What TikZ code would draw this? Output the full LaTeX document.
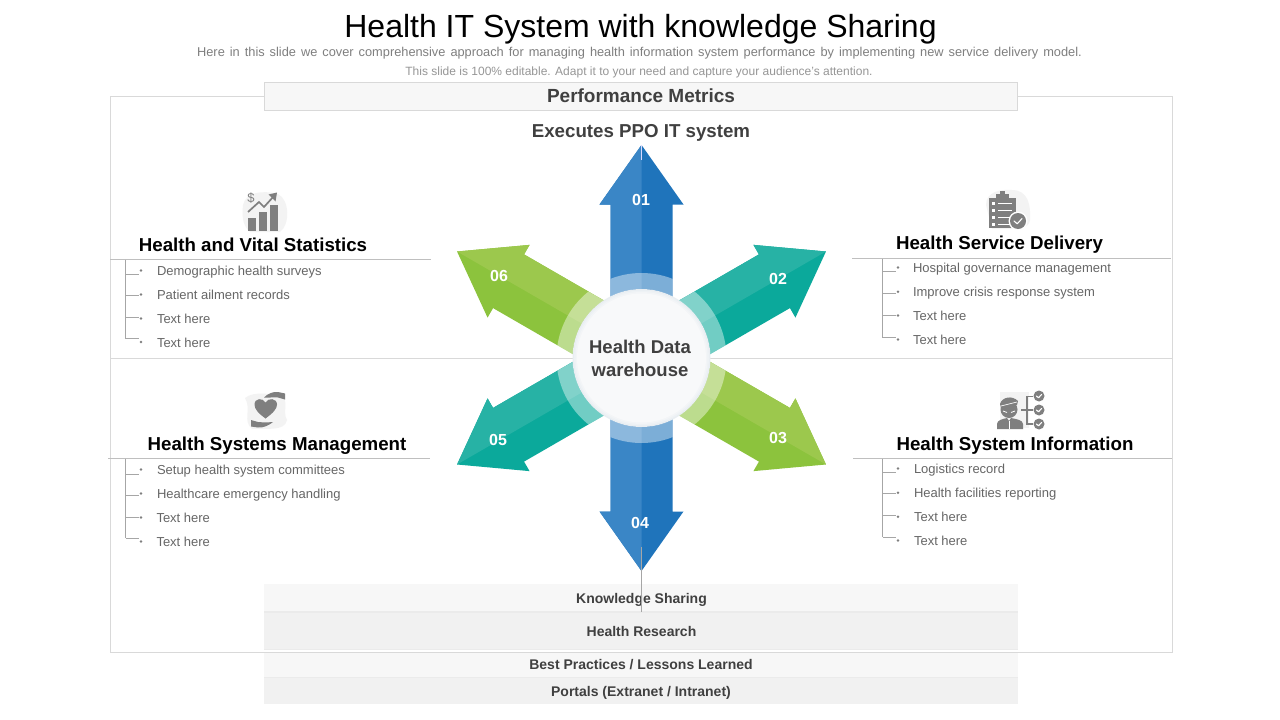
\documentclass[tikz,border=0pt]{standalone}
\usepackage{fontspec}
\setmainfont{Liberation Sans}
\definecolor{framegray}{HTML}{D9D9D9}
\definecolor{rulegray}{HTML}{BFBFBF}
\definecolor{treegray}{HTML}{A6A6A6}
\definecolor{darktext}{HTML}{404040}
\definecolor{listtext}{HTML}{666666}
\definecolor{subtext}{HTML}{7F7F7F}
\definecolor{subtextb}{HTML}{969696}
\definecolor{barA}{HTML}{F7F7F7}
\definecolor{barB}{HTML}{F1F1F1}
\definecolor{barline}{HTML}{EBEBEB}
\definecolor{blob}{HTML}{F3F3F3}
\definecolor{icongray}{HTML}{7F7F7F}
\definecolor{blueL}{HTML}{3A86C6}
\definecolor{blueD}{HTML}{1F74BB}
\definecolor{tealL}{HTML}{27B2A5}
\definecolor{tealD}{HTML}{0BA99B}
\definecolor{greenL}{HTML}{9CC84D}
\definecolor{greenD}{HTML}{8CC33D}
\definecolor{hubA}{HTML}{E9EEF2}
\definecolor{hubB}{HTML}{EEF2F5}
\definecolor{hubC}{HTML}{F3F5F7}
\definecolor{hubfill}{HTML}{F8F9FA}
\newcommand{\fs}[1]{\fontsize{#1}{#1}\selectfont}
\tikzset{
  txt/.style={inner sep=0pt,outer sep=0pt},
  heading/.style={txt,anchor=base,font=\fs{18.7}\bfseries,text=black},
  centerhead/.style={txt,anchor=base,font=\fs{18.7}\bfseries,text=darktext},
  listitem/.style={txt,anchor=base west,font=\fs{13},text=listtext},
  barlabel/.style={txt,anchor=base,font=\fs{14}\bfseries,text=darktext},
  barbox/.style={inner sep=0pt,minimum width=754pt},
  numlabel/.style={txt,font=\fs{16}\bfseries,text=white},
  hair/.style={line width=0.8pt,draw=framegray},
  subrule/.style={line width=0.9pt,draw=rulegray},
  tree/.style={line width=0.7pt,draw=treegray},
  dot/.style={fill=icongray,circle,inner sep=0pt,minimum size=2.8pt}
}
% angle, light-side sign, light colour, dark colour
\newcommand{\healtharrow}[4]{%
  \begin{scope}[shift={(641.5,358)},rotate=#1]
    \fill[#4] (60,-31) -- (153.5,-31) -- (153.5,-42) -- (213,0) -- (153.5,42) -- (153.5,31) -- (60,31) -- cycle;
    \fill[#3] (60,0) -- (60,#2*31) -- (153.5,#2*31) -- (153.5,#2*42) -- (213,0) -- cycle;
    \begin{scope}
      \clip (60,-31) rectangle (153,31);
      \fill[white,opacity=.42,even odd rule] (0,0) circle[radius=85pt] (0,0) circle[radius=69pt];
    \end{scope}
  \end{scope}}
% name, tree x, dot x, branch y, dot y
\newcommand{\treebranch}[5]{%
  \node[dot] (#1d) at (#3,#5) {};
  \coordinate (#1s) at (#2,#4);
  \coordinate (#1e) at (#3-2.5,#4);
  \draw[tree] (#1s) -- (#1e);}
\newcommand{\listline}[4]{\node[listitem] (#1) at (#2,#3) {#4};}
\newcommand{\whitecheck}[3]{%
  \draw[white,line width=1.1pt,line cap=round,line join=round] (#1-#3,#2) -- (#1-0.2*#3,#2+0.7*#3) -- (#1+#3,#2-0.6*#3);}
\begin{document}
\begin{tikzpicture}[x=1pt,y=-1pt]
\useasboundingbox (0,0) rectangle (1280,720);
\fill[white] (0,0) rectangle (1280,720);

% title block
\node[txt,anchor=base,font=\fs{32},text=black] (title) at (640.5,37) {Health IT System with knowledge Sharing};
\node[txt,anchor=base,font=\fs{12.8},text=subtext] (sub1) at (639.5,56.7) {\spaceskip=5pt Here in this slide we cover comprehensive approach for managing health information system performance by implementing new service delivery model.};
\node[txt,anchor=base,font=\fs{12},text=subtextb] (sub2) at (639,75.7) {This slide is 100\% editable. Adapt it to your need and capture your audience’s attention.};

% frame and divider
\draw[hair] (110.5,96.5) rectangle (1172.5,652.5);
\coordinate (divL) at (110.5,358.5);
\coordinate (divR) at (1172.5,358.5);
\draw[hair] (divL) -- (divR);

% performance bar
\node[txt,draw=framegray,line width=0.8pt,fill=barA,minimum width=753pt,minimum height=28pt] (metrics) at (641,96) {};
\node[txt,anchor=base,font=\fs{19}\bfseries,text=darktext] (metricst) at (641,102.7) {Performance Metrics};
\node[centerhead] (ppo) at (641,137.5) {Executes PPO IT system};

% bottom bars
\node[barbox,fill=barA,minimum height=27pt] (bar1) at (641,597.5) {};
\node[barbox,fill=barB,minimum height=37pt] (bar2) at (641,630.5) {};
\node[barbox,fill=barA,minimum height=24pt] (bar3) at (641,665) {};
\node[barbox,fill=barB,minimum height=27pt] (bar4) at (641,690.5) {};
\fill[barline] (264,611) rectangle (1018,612.5);
\fill[barline] (264,649) rectangle (1018,650);
\fill[barline] (264,677) rectangle (1018,678);
\node[barlabel] (bar1t) at (641.5,603.3) {Knowledge Sharing};
\node[barlabel] (bar2t) at (641.5,636) {Health Research};
\node[barlabel] (bar3t) at (641,669) {Best Practices / Lessons Learned};
\node[barlabel] (bar4t) at (641,696) {Portals (Extranet / Intranet)};

% arrows
\healtharrow{90}{-1}{blueL}{blueD}
\healtharrow{30}{-1}{tealL}{tealD}
\healtharrow{-30}{-1}{greenL}{greenD}
\healtharrow{-90}{1}{blueL}{blueD}
\healtharrow{210}{1}{tealL}{tealD}
\healtharrow{150}{1}{greenL}{greenD}

% hub
\fill[hubA] (641.5,358) circle[radius=69pt];
\fill[hubB] (641.5,358) circle[radius=67.5pt];
\fill[hubC] (641.5,358) circle[radius=66pt];
\fill[hubfill] (641.5,358) circle[radius=64.5pt];
\node[txt,align=center,font=\fontsize{18.5}{23}\selectfont\bfseries,text=darktext] (hub) at (640,358.5) {Health Data\\warehouse};

\coordinate (tickA) at (641.5,145);
\coordinate (tickB) at (641.5,160);
\draw[white!85!blue,line width=0.7pt] (tickA) -- (tickB);
\coordinate (stemA) at (641.5,547);
\coordinate (stemB) at (641.5,612);
\draw[treegray,line width=0.8pt] (stemA) -- (stemB);

\node[numlabel] (n1) at (641,200) {01};
\node[numlabel] (n2) at (778,279) {02};
\node[numlabel] (n3) at (778,438) {03};
\node[numlabel] (n4) at (640,523) {04};
\node[numlabel] (n5) at (498,440) {05};
\node[numlabel] (n6) at (499,276) {06};

% ---- top left block
\node[heading] (h1) at (253,251.7) {Health and Vital Statistics};
\draw[subrule] (110,259.5) -- (431,259.5);
\draw[tree] (125.5,259.5) -- (125.5,338.5);
\treebranch{a1}{125.5}{141}{274}{270.5}
\treebranch{a2}{125.5}{141}{295.5}{294.5}
\treebranch{a3}{125.5}{141}{317}{318.5}
\treebranch{a4}{125.5}{141}{338.5}{342}
\listline{a1t}{157}{275.7}{Demographic health surveys}
\listline{a2t}{157}{299.5}{Patient ailment records}
\listline{a3t}{157}{323.3}{Text here}
\listline{a4t}{157}{347.3}{Text here}

% ---- top right block
\node[heading] (h2) at (999.5,249) {Health Service Delivery};
\draw[subrule] (852,258.5) -- (1171,258.5);
\draw[tree] (882.5,258.5) -- (882.5,337.5);
\treebranch{b1}{882.5}{898}{271}{267.5}
\treebranch{b2}{882.5}{898}{293}{291.7}
\treebranch{b3}{882.5}{898}{315.5}{315.5}
\treebranch{b4}{882.5}{898}{337.5}{339.5}
\listline{b1t}{913}{272.5}{Hospital governance management}
\listline{b2t}{913}{296.3}{Improve crisis response system}
\listline{b3t}{913}{320.2}{Text here}
\listline{b4t}{913}{344}{Text here}

% ---- bottom left block
\node[heading] (h3) at (277,450.7) {Health Systems Management};
\draw[subrule] (108,458.5) -- (430,458.5);
\draw[tree] (125.5,458.5) -- (125.5,538);
\treebranch{c1}{125.5}{141}{474}{469.5}
\treebranch{c2}{125.5}{141}{495.5}{493.5}
\treebranch{c3}{125.5}{141}{517}{517.5}
\treebranch{c4}{125.5}{141}{538}{541.5}
\listline{c1t}{157}{474.4}{Setup health system committees}
\listline{c2t}{157}{498.2}{Healthcare emergency handling}
\listline{c3t}{156.5}{522}{Text here}
\listline{c4t}{156.5}{546}{Text here}

% ---- bottom right block
\node[heading] (h4) at (1015,450) {Health System Information};
\draw[subrule] (853,458.5) -- (1172,458.5);
\draw[tree] (882.5,458.5) -- (882.5,537);
\treebranch{d1}{882.5}{898}{472}{468.5}
\treebranch{d2}{882.5}{898}{493.5}{492.7}
\treebranch{d3}{882.5}{898}{515.5}{516.7}
\treebranch{d4}{882.5}{898}{537}{540.5}
\listline{d1t}{914}{473.4}{Logistics record}
\listline{d2t}{914}{497.2}{Health facilities reporting}
\listline{d3t}{914}{521}{Text here}
\listline{d4t}{914}{545}{Text here}

% ---- icon: chart
\fill[blob] (243,205) .. controls (246,192) and (262,190) .. (278,194) .. controls (290,200) and (290,225) .. (280,232) -- (250,232) .. controls (242,225) and (242,215) .. (243,205) -- cycle;
\fill[icongray] (248,218) rectangle (256,231);
\fill[icongray] (259,212) rectangle (267,231);
\fill[icongray] (270,205) rectangle (278,231);
\draw[icongray,line width=1.7pt] (248,212) -- (259,202) -- (264,207) -- (274,196);
\fill[icongray] (277,192.5) -- (268.5,194.5) -- (275.5,201.5) -- cycle;
\node[txt,font=\fs{13},text=icongray] (dollar) at (251,198) {\$};

% ---- icon: clipboard
\fill[blob] (986,205) .. controls (986,192) and (1000,189) .. (1012,190) .. controls (1028,190) and (1031,205) .. (1030,220) .. controls (1029,228) and (1020,229) .. (1010,229) -- (992,229) -- cycle;
\fill[icongray] (989,198) rectangle (1016,228);
\fill[icongray] (996,194) rectangle (1009,199);
\fill[icongray] (1000,191) rectangle (1005,195);
\foreach \yy in {203,210,217,224} {
  \fill[white] (992,\yy-1.5) rectangle (995,\yy+1.5);
  \fill[white] (998,\yy-0.5) rectangle (1012,\yy+0.5);
}
\fill[white] (1018,221) circle[radius=9.5pt];
\fill[icongray] (1018,221) circle[radius=8pt];
\whitecheck{1018}{221}{4}

% ---- icon: heart
\fill[blob] (245,398) .. controls (255,390) and (270,396) .. (280,393) .. controls (290,400) and (282,412) .. (287,420) .. controls (285,432) and (265,428) .. (252,429) .. controls (242,420) and (252,410) .. (245,398) -- cycle;
\fill[icongray] (265.5,418.5) .. controls (258,413) and (254.5,409) .. (254.5,404.5) .. controls (254.5,398) and (263,397.5) .. (265.5,402.5) .. controls (268,397.5) and (277,398) .. (277,404.5) .. controls (277,409) and (273,413) .. (265.5,418.5) -- cycle;
\fill[icongray] (264,397.5) .. controls (268,393.5) and (273,391.5) .. (278,392) -- (285,393.5) -- (285,399.5) -- (278,397.5) .. controls (273,397) and (268,398) .. (264,397.5) -- cycle;
\fill[icongray] (273,422) .. controls (269,425.5) and (263,428) .. (258,427.5) -- (251,426.5) -- (251,420) -- (258,422) .. controls (263,422.5) and (268,422.5) .. (273,422) -- cycle;

% ---- icon: person
\fill[blob] (1000,392) rectangle (1029,428);
\fill[icongray] (997,429) -- (997,424) .. controls (997,420) and (1003,419) .. (1007,418) -- (1009,421) -- (1011,418) .. controls (1016,419) and (1023,420) .. (1023,424) -- (1023,429) -- cycle;
\draw[white,line width=0.7pt] (1009,421) -- (1009,429);
\fill[icongray] (1009,409.5) circle[radius=8.5pt];
\fill[icongray] (1000,404) .. controls (1002,397) and (1012,395) .. (1018,401) -- (1017,405) -- (1001,408) -- cycle;
\draw[white,line width=0.7pt] (1001,406) -- (1017,402);
\draw[white,line width=0.8pt] (1003,411) -- (1007,412.5) (1011,412.5) -- (1015,411);
\draw[icongray,line width=1.1pt] (1033,396.5) -- (1027,396.5) -- (1027,424) -- (1033,424);
\draw[icongray,line width=1.1pt] (1021,410) -- (1033,410);
\foreach \yy in {396,410,424} {
  \fill[icongray] (1039,\yy) circle[radius=5.5pt];
  \whitecheck{1039}{\yy}{2.6}
}
\end{tikzpicture}
\end{document}
